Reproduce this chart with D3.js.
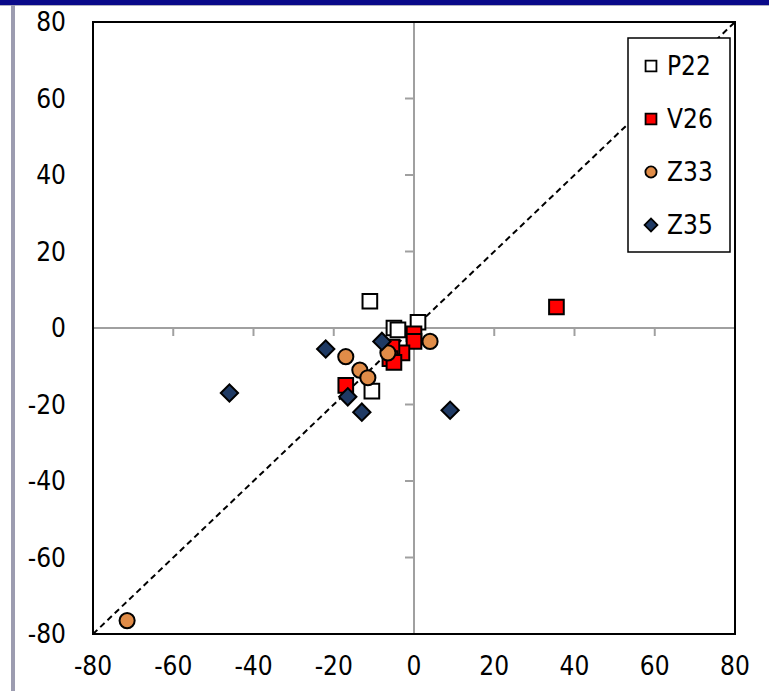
<!DOCTYPE html>
<html>
<head>
<meta charset="utf-8">
<script src="https://cdn.jsdelivr.net/npm/d3@7"></script>
<style>
  body { margin: 0; background: #fff; }
  text { font-family: "DejaVu Sans Condensed", "DejaVu Sans", sans-serif; fill: #000; }
</style>
</head>
<body>
<script>
var width = 769,
  height = 691;

// data
var series = ["P22", "V26", "Z33", "Z35"];
var p22 = [[-11, 7], [-5, 0], [-4, -0.5], [1, 1.5], [-10.5, -16.5]];
var v26 = [[35.5, 5.5], [-17, -15], [0, -1.5], [0, -3.5], [-3, -6.5], [-5.5, -5], [-6, -8], [-5, -9]];
var z33 = [[-71.5, -76.5], [4, -3.5], [-17, -7.5], [-13.5, -11], [-11.5, -13], [-6.5, -6.5]];
var z35 = [[-46, -17], [-22, -5.5], [-16.5, -18], [-13, -22], [9, -21.5], [-8, -3.5]];
var ticks = [-80, -60, -40, -20, 0, 20, 40, 60, 80];

var couleur = { P22: "#ffffff", V26: "#ff0000", Z33: "#e08c48", Z35: "#1f3a64" };
var forme = { P22: d3.symbolSquare, V26: d3.symbolSquare, Z33: d3.symbolCircle, Z35: d3.symbolSquare };
var taille = { P22: 215, V26: 215, Z33: 180, Z35: 150 };
var angle = { P22: 0, V26: 0, Z33: 0, Z35: 45 };

var svg = d3
  .select("body")
  .append("svg")
  .attr("width", width)
  .attr("height", height);

// window decorations
svg.append("rect").attr("x", 0).attr("y", 0).attr("width", width).attr("height", 5).attr("fill", "#0a0a8a");
svg.append("rect").attr("x", 0).attr("y", 5).attr("width", width).attr("height", 1).attr("fill", "#b0b0c0");
svg.append("rect").attr("x", 11).attr("y", 5).attr("width", 4).attr("height", height).attr("fill", "#9c9cb0");

var x = d3.scaleLinear().domain([-80, 80]).range([93, 735]);
var y = d3.scaleLinear().domain([-80, 80]).range([634, 22]);

// zero axes with their tick marks
var ax = svg.append("g");
ax.append("line")
  .attr("x1", x(-80)).attr("x2", x(80))
  .attr("y1", y(0)).attr("y2", y(0))
  .attr("stroke", "#a0a0a0").attr("stroke-width", 2);
ax.append("line")
  .attr("x1", x(0)).attr("x2", x(0))
  .attr("y1", y(-80)).attr("y2", y(80))
  .attr("stroke", "#a0a0a0").attr("stroke-width", 2);
ax.selectAll(".tx")
  .data(ticks)
  .enter()
  .append("line")
  .attr("x1", function (d) { return x(d); })
  .attr("x2", function (d) { return x(d); })
  .attr("y1", y(0))
  .attr("y2", y(0) + 8)
  .attr("stroke", "#a0a0a0").attr("stroke-width", 2);
ax.selectAll(".ty")
  .data(ticks)
  .enter()
  .append("line")
  .attr("x1", x(0) - 9)
  .attr("x2", x(0))
  .attr("y1", function (d) { return y(d); })
  .attr("y2", function (d) { return y(d); })
  .attr("stroke", "#a0a0a0").attr("stroke-width", 2);

// plot border
svg.append("rect")
  .attr("x", x(-80)).attr("y", y(80))
  .attr("width", x(80) - x(-80)).attr("height", y(-80) - y(80))
  .attr("fill", "none").attr("stroke", "#000").attr("stroke-width", 2);

// tick labels
svg.append("g")
  .selectAll("text")
  .data(ticks)
  .enter()
  .append("text")
  .attr("x", 66)
  .attr("y", function (d) { return y(d); })
  .attr("dy", "0.36em")
  .attr("text-anchor", "end")
  .style("font-size", "26px")
  .text(function (d) { return d; });
svg.append("g")
  .selectAll("text")
  .data(ticks)
  .enter()
  .append("text")
  .attr("x", function (d) { return x(d); })
  .attr("y", 666)
  .attr("dy", "0.36em")
  .attr("text-anchor", "middle")
  .style("font-size", "26px")
  .text(function (d) { return d; });

// 1:1 line
svg.append("line")
  .attr("x1", x(-80)).attr("y1", y(-80))
  .attr("x2", x(80)).attr("y2", y(80))
  .attr("stroke", "#000").attr("stroke-width", 2)
  .attr("stroke-dasharray", "6,4");

// points
var lots = [["P22", p22], ["V26", v26], ["Z33", z33], ["Z35", z35]];
lots.forEach(function (l) {
  var nom = l[0];
  svg.append("g")
    .selectAll("path")
    .data(l[1])
    .enter()
    .append("path")
    .attr("transform", function (d) {
      return "translate(" + x(d[0]) + "," + y(d[1]) + ") rotate(" + angle[nom] + ")";
    })
    .attr("d", d3.symbol().type(forme[nom]).size(taille[nom]))
    .attr("fill", couleur[nom])
    .attr("stroke", "#000")
    .attr("stroke-width", 2);
});

// legend
var leg = svg.append("g");
leg.append("rect")
  .attr("x", 628).attr("y", 38)
  .attr("width", 102).attr("height", 214)
  .attr("fill", "#fff").attr("stroke", "#000").attr("stroke-width", 1.5);
var item = leg.selectAll(".item")
  .data(series)
  .enter()
  .append("g")
  .attr("transform", function (d, i) { return "translate(651," + (66 + i * 53) + ")"; });
item.append("path")
  .attr("transform", function (d) { return "rotate(" + angle[d] + ")"; })
  .attr("d", function (d) { return d3.symbol().type(forme[d]).size(taille[d] * 0.55)(); })
  .attr("fill", function (d) { return couleur[d]; })
  .attr("stroke", "#000")
  .attr("stroke-width", 1.8);
item.append("text")
  .attr("x", 16)
  .attr("dy", "0.36em")
  .style("font-size", "26px")
  .text(function (d) { return d; });
</script>
</body>
</html>
